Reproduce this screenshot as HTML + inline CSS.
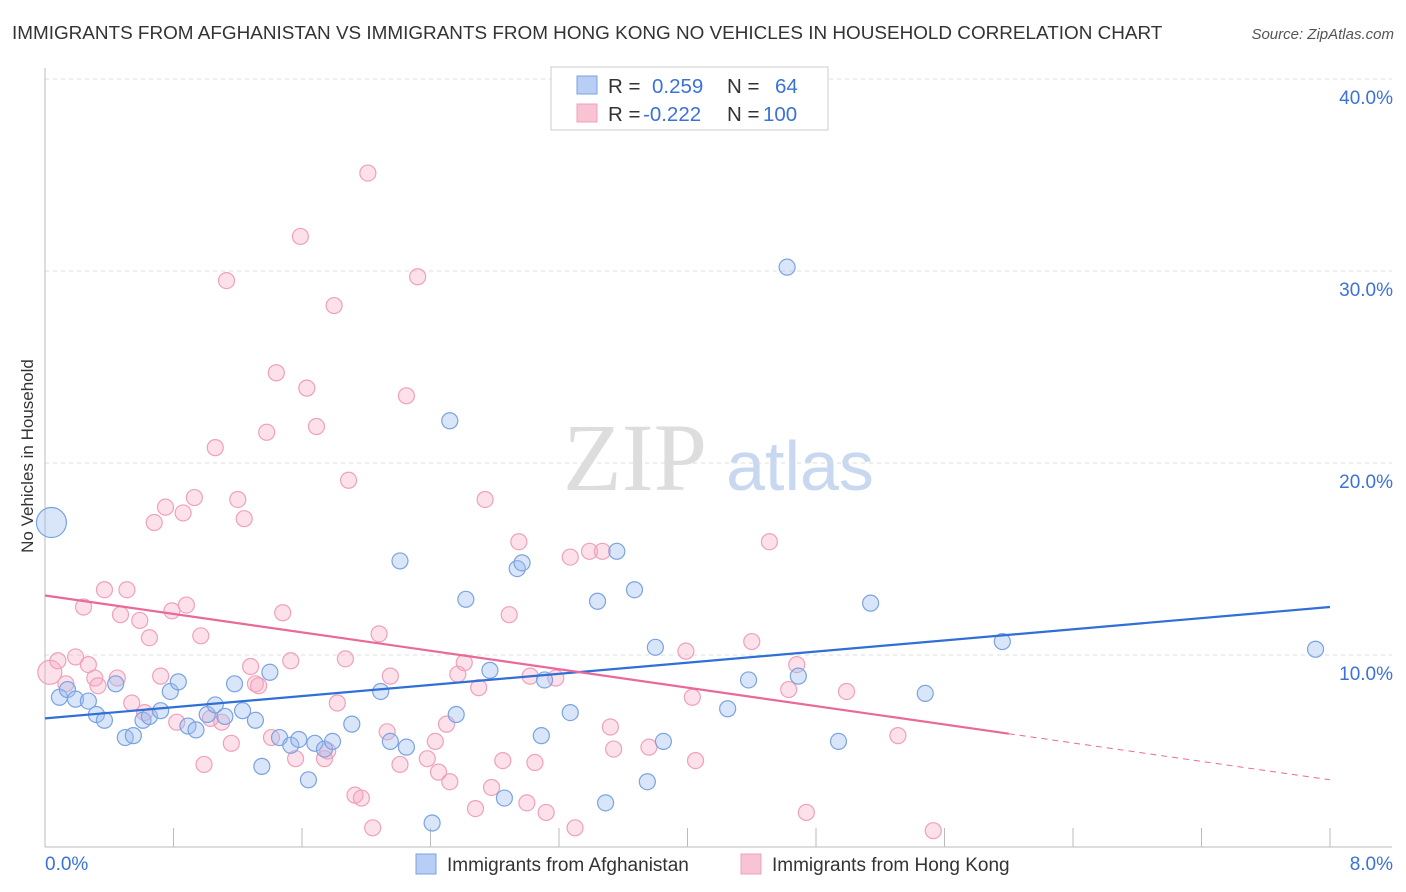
<!DOCTYPE html>
<html><head><meta charset="utf-8">
<style>
body{margin:0;background:#fff;font-family:"Liberation Sans",sans-serif;}
#wrap{position:relative;width:1406px;height:892px;overflow:hidden;}
</style></head>
<body>
<div id="wrap">
<svg id="svg" width="1406" height="892" xmlns="http://www.w3.org/2000/svg">
<text x="12" y="39" font-size="18.9" fill="#333">IMMIGRANTS FROM AFGHANISTAN VS IMMIGRANTS FROM HONG KONG NO VEHICLES IN HOUSEHOLD CORRELATION CHART</text>
<text x="1394" y="39" font-size="15" fill="#555" font-style="italic" text-anchor="end">Source: ZipAtlas.com</text>
<text transform="translate(33,456) rotate(-90)" font-size="17" fill="#333" text-anchor="middle">No Vehicles in Household</text>
<g>
<text x="635" y="490" font-size="96" font-family="Liberation Serif,serif" fill="#ddd" text-anchor="middle">ZIP</text>
<text x="800" y="490" font-size="70" fill="#c8d8f0" text-anchor="middle">atlas</text>
</g>
<g id="grid"></g><g id="axes"></g><g id="pts"></g><g id="lines"></g>
<g>
<rect x="551" y="67" width="277" height="63" fill="#fff" stroke="#ccc"/>
<rect x="577" y="76" width="20" height="18" fill="#b8cef5" stroke="#7aa3e0"/>
<rect x="577" y="104" width="20" height="18" fill="#f8c4d4" stroke="#f0a0bb"/>
<text x="608" y="93" font-size="20.5" fill="#333">R = <tspan fill="#3b72d8" x="652">0.259</tspan><tspan fill="#333" x="727">N =</tspan><tspan fill="#3b72d8" x="775">64</tspan></text>
<text x="608" y="121" font-size="20.5" fill="#333">R = <tspan fill="#3b72d8" x="643">-0.222</tspan><tspan fill="#333" x="727">N =</tspan><tspan fill="#3b72d8" x="763">100</tspan></text>
</g>
<g>
<rect x="416" y="854" width="20" height="20" fill="#b8cef5" stroke="#7aa3e0"/>
<text x="447" y="871" font-size="19" fill="#333">Immigrants from Afghanistan</text>
<rect x="741" y="854" width="20" height="20" fill="#f8c4d4" stroke="#f0a0bb"/>
<text x="772" y="871" font-size="19" fill="#333">Immigrants from Hong Kong</text>
</g>
</svg>
</div>
<script>
const blueX=[0.04,0.09,0.14,0.19,0.27,0.32,0.37,0.44,0.50,0.55,0.61,0.65,0.72,0.78,0.83,0.89,0.94,1.01,1.06,1.12,1.18,1.23,1.31,1.35,1.40,1.46,1.53,1.58,1.64,1.68,1.74,1.79,1.91,2.09,2.15,2.21,2.25,2.41,2.52,2.56,2.62,2.77,2.86,2.94,2.97,3.09,3.11,3.27,3.44,3.49,3.56,3.67,3.75,3.80,3.85,4.25,4.38,4.62,4.69,4.94,5.14,5.48,5.96,7.91];
const blueY=[16.9,7.8,8.2,7.7,7.6,6.9,6.6,8.5,5.7,5.8,6.6,6.8,7.1,8.1,8.6,6.3,6.1,6.9,7.4,6.8,8.5,7.1,6.6,4.2,9.1,5.7,5.3,5.6,3.5,5.4,5.1,5.5,6.4,8.1,5.5,14.9,5.2,1.25,22.2,6.9,12.9,9.2,2.55,14.5,14.8,5.8,8.7,7.0,12.8,2.3,15.4,13.4,3.4,10.4,5.5,7.2,8.7,30.2,8.9,5.5,12.7,8.0,10.7,10.3];
const pinkX=[0.03,0.08,0.13,0.19,0.24,0.27,0.31,0.33,0.37,0.45,0.47,0.51,0.54,0.59,0.62,0.65,0.68,0.72,0.75,0.79,0.82,0.86,0.88,0.93,0.97,0.99,1.03,1.06,1.10,1.13,1.16,1.20,1.24,1.28,1.31,1.33,1.38,1.41,1.44,1.48,1.53,1.56,1.59,1.63,1.69,1.74,1.76,1.80,1.82,1.87,1.89,1.93,1.97,2.01,2.04,2.08,2.13,2.15,2.21,2.25,2.32,2.38,2.43,2.45,2.50,2.52,2.57,2.61,2.68,2.70,2.74,2.78,2.85,2.89,2.95,3.00,3.02,3.05,3.12,3.18,3.27,3.30,3.39,3.47,3.52,3.54,3.76,3.99,4.03,4.05,4.40,4.51,4.63,4.68,4.74,4.99,5.31,5.53];
const pinkY=[9.1,9.7,8.5,9.9,12.5,9.5,8.8,8.4,13.4,8.8,12.1,13.4,7.5,11.8,7.0,10.9,16.9,8.9,17.7,12.3,6.5,17.4,12.6,18.2,11.0,4.3,6.7,20.8,6.5,29.5,5.4,18.1,17.1,9.4,8.5,8.4,21.6,5.7,24.7,12.2,9.7,4.6,31.8,23.9,21.9,4.6,5.0,28.2,7.5,9.8,19.1,2.7,2.55,35.1,1.0,11.1,6.0,8.9,4.3,23.5,29.7,4.6,5.5,3.9,6.4,3.4,9.0,9.6,2.0,8.3,18.1,3.1,4.5,12.1,15.9,2.3,8.9,4.4,1.8,8.8,15.1,1.0,15.4,15.4,6.25,5.1,5.2,10.2,7.8,4.5,10.7,15.9,8.2,9.5,1.8,8.1,5.8,0.85];
const yTicks=[10,20,30,40];
const yTickLabels=["10.0%","20.0%","30.0%","40.0%"];
const xTickLabels=["0.0%","8.0%"];
const blueTrend=[6.7,0.725];
const pinkTrend=[13.1,-1.2];
const pinkSolidEnd=6.0;

const X0=45,X1=1330,Y0=847;
const xs=v=>X0+v*(X1-X0)/8;
const ys=v=>Y0-v*19.2;
const NS="http://www.w3.org/2000/svg";
function mk(tag,attrs,parent){const e=document.createElementNS(NS,tag);for(const k in attrs)e.setAttribute(k,attrs[k]);document.getElementById(parent).appendChild(e);return e;}

yTicks.forEach((t,i)=>{
  const g=mk('line',{x1:X0,x2:1392,y1:ys(t),y2:ys(t),stroke:'#ddd','stroke-dasharray':'4,4'},'grid');
  
  
  const l=mk('text',{x:1393,y:ys(t)+25,'font-size':19,fill:'#3b72d8','text-anchor':'end'},'grid');
  l.textContent=yTickLabels[i];
  
  
});
const ax=mk('line',{x1:X0,x2:X0,y1:68,y2:Y0,stroke:'#bbb'},'axes');


const bx=mk('line',{x1:X0,x2:1392,y1:Y0,y2:Y0,stroke:'#bbb'},'axes');


for(let i=0;i<=10;i++){
  const t=mk('line',{x1:xs(i*0.8),x2:xs(i*0.8),y1:828,y2:Y0,stroke:'#bbb'},'axes');
  
  
}
[[0,45,'start'],[8,1393,'end']].forEach((d,i)=>{
  const l=mk('text',{x:d[1],y:870,'font-size':19,fill:'#3b72d8','text-anchor':d[2]},'axes');
  l.textContent=xTickLabels[i];
  
  
});
function dots(X,Y,fill,stroke,name,bigR){
  X.forEach((x,i)=>{
    const big=(i===0 && (x<0.06));
    const c=mk('circle',{cx:xs(x),cy:ys(Y[i]),r:big?bigR:8,fill:fill,stroke:stroke,'stroke-width':1.2},'pts');
    
    
  });
}
dots(pinkX,pinkY,'rgba(245,170,195,0.35)','#f0a0bb','hongkong-point',12);
dots(blueX,blueY,'rgba(160,190,240,0.4)','#7aa3e0','afghanistan-point',15);
const bl=mk('line',{x1:xs(0),y1:ys(blueTrend[0]),x2:xs(8),y2:ys(blueTrend[0]+8*blueTrend[1]),stroke:'#2f6fd6','stroke-width':2.2},'lines');


const pl=mk('line',{x1:xs(0),y1:ys(pinkTrend[0]),x2:xs(pinkSolidEnd),y2:ys(pinkTrend[0]+pinkSolidEnd*pinkTrend[1]),stroke:'#e8699a','stroke-width':2.2},'lines');


const pd=mk('line',{x1:xs(pinkSolidEnd),y1:ys(pinkTrend[0]+pinkSolidEnd*pinkTrend[1]),x2:xs(8),y2:ys(pinkTrend[0]+8*pinkTrend[1]),stroke:'#e8699a','stroke-width':1,'stroke-dasharray':'6,5'},'lines');


</script>
</body></html>
